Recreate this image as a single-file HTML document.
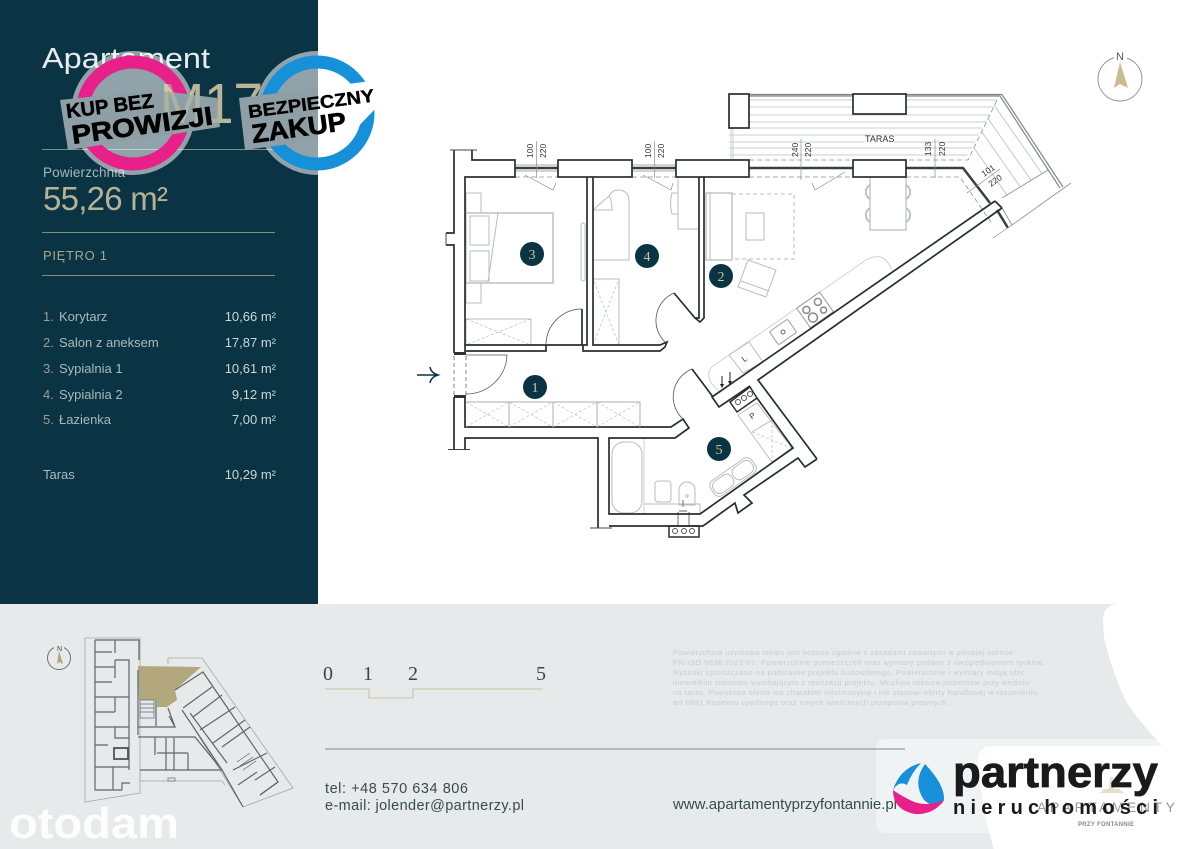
<!DOCTYPE html>
<html lang="pl"><head><meta charset="utf-8"><title>Apartament M17</title>
<style>html,body{margin:0;padding:0;background:#fff}svg{display:block}text{font-family:"Liberation Sans",sans-serif}</style></head>
<body>
<svg width="1200" height="849" viewBox="0 0 1200 849" xmlns="http://www.w3.org/2000/svg">
<defs>
<clipPath id="tc"><polygon points="998,98 968,159 993,198 1002,198 1048,170"/></clipPath>
<clipPath id="lp"><rect x="0" y="0" width="318" height="604"/></clipPath>
</defs>
<rect width="1200" height="849" fill="#fff"/>
<!-- bottom band -->
<path d="M0,604 H1117 Q1103,606 1103,620 Q1104,640 1105,642 Q1115,680 1127,703 Q1140,722 1155,738 L1162,746 H990 Q978,748 978,760 Q982,810 994,849 H0 Z" fill="#e6eaeb"/>
<rect x="876" y="739" width="290" height="94" rx="9" fill="#fff" opacity=".42"/>
<path d="M990,746 H1200 V849 H994 Q982,810 978,760 Q978,748 990,746Z" fill="#fff"/>
<!-- left panel -->
<rect width="318" height="604" fill="#0a3343"/>
<text x="42" y="68" font-size="29" fill="#e6ecec" textLength="168" lengthAdjust="spacingAndGlyphs">Apartament</text>
<text x="160" y="123" font-size="57" fill="#a9a68c" textLength="103" lengthAdjust="spacingAndGlyphs">M17</text>
<path d="M42,149.500H275M42,232.500H275M42,275.500H275" stroke="#7f9088" stroke-width="1"/>
<text x="43" y="177" font-size="13.500" fill="#a8b8bb" textLength="82">Powierzchnia</text>
<text x="43" y="210" font-size="33" fill="#b5b295" textLength="125">55,26 m²</text>
<text x="43" y="260" font-size="13" fill="#a8a68b" textLength="64">PIĘTRO 1</text>
<g font-size="13" fill="#a09e84">
<text x="43" y="321">1.</text><text x="43" y="347">2.</text><text x="43" y="373">3.</text><text x="43" y="399">4.</text><text x="43" y="424">5.</text>
</g>
<g font-size="13" fill="#a9babd">
<text x="59" y="321">Korytarz</text><text x="59" y="347">Salon z aneksem</text><text x="59" y="373">Sypialnia 1</text><text x="59" y="399">Sypialnia 2</text><text x="59" y="424">Łazienka</text><text x="43" y="479">Taras</text>
</g>
<g font-size="13" fill="#ccd7d8" text-anchor="end">
<text x="276" y="321">10,66 m²</text><text x="276" y="347">17,87 m²</text><text x="276" y="373">10,61 m²</text><text x="276" y="399">9,12 m²</text><text x="276" y="424">7,00 m²</text><text x="276" y="479">10,29 m²</text>
</g>
<!-- badges -->
<circle cx="133" cy="113" r="62" fill="#fff" opacity=".55"/>
<circle cx="133" cy="113" r="51" fill="none" stroke="#e8208a" stroke-width="13"/>
<polygon points="60,100 155,90 217,98 220,127 68,150" fill="#8f9fa6"/>
<text x="160" y="123" font-size="57" fill="#c9c3a0" opacity=".55" textLength="103" lengthAdjust="spacingAndGlyphs">M17</text>
<text transform="translate(67,118) rotate(-7)" font-size="20" font-weight="bold" fill="#000" stroke="#000" stroke-width=".5" textLength="88" lengthAdjust="spacingAndGlyphs">KUP BEZ</text>
<text transform="translate(73,144) rotate(-8)" font-size="26" font-weight="bold" fill="#000" stroke="#000" stroke-width=".7" textLength="142" lengthAdjust="spacingAndGlyphs">PROWIZJI</text>
<circle cx="317" cy="113" r="62" fill="#fff" opacity=".55" clip-path="url(#lp)"/>
<circle cx="317" cy="113" r="51" fill="none" stroke="#1690d8" stroke-width="13"/>
<polygon points="239,98 318,88 318,140 245,150" fill="#8f9fa6"/>
<polygon points="318,88 378,80 378,106 350,135 318,140" fill="#fff"/>
<text transform="translate(249,118) rotate(-7.500)" font-size="18" font-weight="bold" fill="#000" stroke="#000" stroke-width=".4" textLength="127" lengthAdjust="spacingAndGlyphs">BEZPIECZNY</text>
<text transform="translate(253,143) rotate(-8)" font-size="26" font-weight="bold" fill="#000" stroke="#000" stroke-width=".7" textLength="95" lengthAdjust="spacingAndGlyphs">ZAKUP</text>
<!-- terrace -->
<g stroke="#cdd0d1" stroke-width="1" fill="none">
<path d="M749,100H998M749,107H994M749,115H990M749,122H986M729,128H982M729,135H979M729,142H865M894,142H975M729,148H795M810,148H972M729,155H968"/>
<path d="M731,128V160M733,128V160" />
</g>
<g clip-path="url(#tc)" stroke="#bfc3c4" stroke-width=".9">
<path d="M968,90L1033,183M980,85L1045,178M992,82L1057,175M956,95L1021,188M944,105L1009,198M932,115L997,208M1004,78L1069,171M920,125L985,218"/>
</g>
<path d="M729,94.500H1002L1063,187M732,96H1000L1060,188" fill="none" stroke="#80868a" stroke-width="1.200"/>
<path d="M1012,225L1071,183M1002,198L1048,170M1048,170L1055,180M1012,225L1002,208" stroke="#8a8f92" stroke-width=".8" fill="none"/>
<path d="M749,160H968L998,98M906,177H960L993,225" fill="none" stroke="#8d9193" stroke-width=".8" stroke-dasharray="5 3"/>
<path d="M515,177H558M632,177H676M749,177H853" fill="none" stroke="#8d9193" stroke-width=".8" stroke-dasharray="5 3"/>
<g fill="#fff" stroke="#2a2e31" stroke-width="1.700">
<rect x="729" y="94" width="20" height="34"/><rect x="853" y="94" width="53" height="20"/>
</g>
<!-- windows -->
<g stroke="#3a3e41" stroke-width="2.500" fill="none">
<path d="M515,168H558M632,168H676M749,168H853M906,168H963L990,203M997,210L1008,228"/>
</g>
<g stroke="#8a8e90" stroke-width=".7" fill="none">
<path d="M515,165H558M632,165H676M515,171H558M632,171H676"/>
<path d="M536.500,141V178M654.500,141V178M801,139V180M935,139V178M967,193L1000,169M993,238L1012,225"/>
<path d="M525,175L553,190L556,183M643,175L671,190L673,183M845,172L815,190L812,183"/>
</g>
<g font-size="8.500" fill="#333">
<text transform="translate(533,158) rotate(-90)">100</text><text transform="translate(546,158) rotate(-90)">220</text>
<text transform="translate(651,158) rotate(-90)">100</text><text transform="translate(664,158) rotate(-90)">220</text>
<text transform="translate(798,157) rotate(-90)">240</text><text transform="translate(811,157) rotate(-90)">220</text>
<text transform="translate(931,156) rotate(-90)">133</text><text transform="translate(945,156) rotate(-90)">220</text>
<text x="865" y="142" font-size="9">TARAS</text>
<text transform="translate(984,177) rotate(-35)">101</text><text transform="translate(991,187) rotate(-35)">220</text>
</g>
<!-- furniture -->
<g fill="none" stroke="#b9bcbd" stroke-width="1">
<rect x="466" y="213" width="87" height="70" stroke-width="1.400"/>
<rect x="470" y="216" width="19" height="29"/><rect x="470" y="251" width="19" height="30"/>
<path d="M498,213L488,282"/>
<rect x="466" y="193" width="15" height="20"/><rect x="466" y="283" width="15" height="20"/>
<rect x="466" y="319" width="65" height="26"/>
<path d="M466,319L531,345M531,319L466,345" stroke-dasharray="3 2" stroke-width=".7"/>
<rect x="581" y="223" width="4" height="58" rx="2"/>
<path d="M593,260H629V202Q629,190 618,190Q612,190 609,196L593,210V260M593,210H612Q612,200 609,196"/>
<rect x="593" y="279" width="26" height="66"/>
<path d="M593,345L619,279M619,345L593,279" stroke-dasharray="3 2" stroke-width=".7"/>
<rect x="678" y="177" width="21" height="52"/>
<path d="M678,193H672Q669,203 672,214H678"/>
<rect x="706" y="193" width="26" height="67" stroke-width="1.300"/><path d="M710,193V260"/>
<rect x="732" y="194" width="62" height="65" stroke-dasharray="4 3"/>
<rect x="746" y="213" width="18" height="27"/>
<polygon points="748,260 776,270 766,297 738,287"/><path d="M741,281L769,291"/>
<rect x="870" y="177" width="36" height="53" stroke-width="1.200"/>
<path d="M870,185A8,8 0 0 0 870,199M870,208A8,8 0 0 0 870,222M906,185A8,8 0 0 1 906,199M906,208A8,8 0 0 1 906,222" stroke-width="1.800"/>
<path d="M892,270Q884,250 866,260L713,366Q705,373 712,384L720,393" stroke="#d0d2d3"/>
<g transform="translate(815,310) rotate(-35)"><rect x="-14" y="-12" width="28" height="24" stroke="#999"/><circle cx="-7" cy="-5" r="3.500" stroke="#888" stroke-width="1.500"/><circle cx="7" cy="-5" r="3.500" stroke="#888" stroke-width="1.500"/><circle cx="-6" cy="5" r="4.500" stroke="#888" stroke-width="1.500"/><circle cx="7" cy="5" r="3" stroke="#888" stroke-width="1.500"/></g>
<g transform="translate(783,332) rotate(-35)"><rect x="-11" y="-8" width="22" height="16" rx="1.500" stroke="#999"/><circle cx="0" cy="0" r="2" stroke="#666"/></g>
<polygon points="729,355 749,342 763,362 743,373"/>
<rect x="644" y="504" width="56" height="10"/>
<rect x="609" y="438" width="35" height="76" stroke="#d0d2d3"/>
<rect x="612" y="442" width="30" height="71" rx="12"/>
<rect x="655" y="481" width="16" height="21" rx="3"/>
<path d="M679,505V490A8,8 0 0 1 695,490V505Z"/><circle cx="687" cy="496" r="1.200"/>
<g transform="translate(733,477) rotate(-35)"><rect x="-25" y="-9" width="50" height="18" rx="6"/><rect x="-23" y="-7" width="22" height="14" rx="6"/><rect x="1" y="-7" width="22" height="14" rx="6"/></g>
<polygon points="738,415 757,403 792,448 772,462"/><path d="M752,432L772,420"/>
<path d="M752,432L792,448M772,420L772,462" stroke-dasharray="3 2" stroke-width=".7"/>
</g>
<g font-size="8" fill="#333" text-anchor="middle">
<text transform="translate(746,361) rotate(-35)">L</text><text transform="translate(754,418) rotate(-35)">P</text>
</g>
<path d="M722,376V386M730,372V383" stroke="#222" stroke-width="1"/>
<path d="M720,384L722,388L724,384ZM728,381L730,385L732,381Z" fill="#222"/>
<!-- shafts -->
<polygon points="730,402 750,387 757,398 737,412" fill="#fff" stroke="#2a2e31" stroke-width="1.500"/>
<g fill="none" stroke="#555" stroke-width="1"><circle cx="738" cy="402" r="2.500"/><circle cx="744" cy="398" r="2.500"/><circle cx="750" cy="394" r="2.500"/></g>
<rect x="669" y="526" width="30" height="11" fill="#fff" stroke="#2a2e31" stroke-width="1.500"/>
<g fill="none" stroke="#555" stroke-width="1"><circle cx="675" cy="531" r="2.500"/><circle cx="684" cy="531" r="2.500"/><circle cx="692" cy="531" r="2.500"/></g>
<path d="M679,511h8M683,500v7M678,512V526M689,512V526" stroke="#888" stroke-width="1.200"/>
<!-- walls -->
<g fill="#fff" stroke="#2a2e31" stroke-width="1.700">
<rect x="558" y="160" width="74" height="17"/><rect x="676" y="160" width="73" height="17"/><rect x="853" y="160" width="53" height="17"/>
</g>
<g fill="none" stroke="#2a2e31" stroke-width="1.700" stroke-linejoin="miter">
<path d="M465,353V177H515V160H472V150"/>
<path d="M454,150V233H446M446,245H454V353"/>
<path d="M587,177V345H465M593,177V345H660L667,342L665,347L660,351H583V345M466,351H546V345"/>
<path d="M582,309V345"/>
<path d="M699,177V318H695L674,293M704,177V318L700,322L695,318"/>
<path d="M995,201L712,397L719,407L750,386M1002,208L758,380L817,459M995,201L1002,208"/>
<path d="M757,398L793,448L700,514H609V438H675L689,428L683,419L671,427H465V398"/>
<path d="M817,459L805,467L798,458L744,495L752,503L738,513L735,503L703,526H609M598,528V438H465V449M454,397V449"/>
<path d="M692,369L713,397"/>
</g>
<path d="M450,150H477M448,449.500H470M590,528H612M446,233V245M454,354H466M454,397H466" stroke="#444" stroke-width="1" fill="none"/>
<rect x="454" y="352" width="12" height="3" fill="#333"/><rect x="454" y="395" width="12" height="3" fill="#333"/>
<path d="M454,356V395M466,356V395" stroke="#666" stroke-width=".8" stroke-dasharray="4 3" fill="none"/>
<g fill="none" stroke="#555" stroke-width=".8">
<path d="M466,355H507A41,40 0 0 1 466,394"/>
<path d="M582,309A36,36 0 0 0 546,345"/>
<path d="M674,293A30,30 0 0 0 665,342"/>
<path d="M692,369A30,30 0 0 0 683,419"/>
</g>
<path d="M466,402H640V427M509,402V427M553,402V427M597,402V427" fill="none" stroke="#aaaeaf" stroke-width="1"/>
<path d="M466,427L509,402M466,402L509,427M509,427L553,402M509,402L553,427M553,427L597,402M553,402L597,427M597,427L640,402M597,402L640,427" fill="none" stroke="#b4b8b9" stroke-width=".6" stroke-dasharray="3 2"/>
<path d="M417,375H438M430,367Q431,373 438,375Q431,377 430,383" fill="none" stroke="#0a3343" stroke-width="1.500"/>
<!-- room numbers -->
<g fill="#0a3343"><circle cx="532" cy="254" r="12"/><circle cx="647" cy="256" r="12"/><circle cx="721" cy="276" r="12"/><circle cx="535" cy="387" r="12"/><circle cx="719" cy="449" r="12"/></g>
<g font-size="14" fill="#c9c4a2" text-anchor="middle">
<text x="532" y="259" style="font-family:'Liberation Serif',serif">3</text><text x="647" y="261" style="font-family:'Liberation Serif',serif">4</text><text x="721" y="281" style="font-family:'Liberation Serif',serif">2</text><text x="535" y="392" style="font-family:'Liberation Serif',serif">1</text><text x="719" y="454" style="font-family:'Liberation Serif',serif">5</text>
</g>
<!-- north -->
<circle cx="1120" cy="79" r="22" fill="none" stroke="#8a9a94" stroke-width=".9"/>
<rect x="1114" y="50" width="13" height="11" fill="#fff"/>
<text x="1120" y="60" font-size="11" fill="#555" text-anchor="middle">N</text>
<polygon points="1120,62 1128,88 1120,84 1114,88" fill="#c9bd8f"/>
<!-- key plan -->
<polygon points="138,666 201,667 175,690 177,700 167,707 157,707 157,700 139,700" fill="#b3a77d"/>
<g fill="none" stroke="#a2a7a9" stroke-width=".8">
<polygon points="85,638 140,638 140,793 85,802"/>
<path d="M168,658H202L293,788L243,807L197,733M140,781H222L225,785M140,770V781M168,658V664"/>
</g>
<g fill="none" stroke="#5f666a" stroke-width="1.200">
<path d="M95,640H139V660M95,640V790H122M129,662V770M138,670V735"/>
<path d="M95,652H112M115,640V653M115,660H129V663M115,660V678M95,667H115M95,682H112M95,697H129M115,697V712M95,712H115M95,727H129M115,727V738H129M95,745H108M95,767H129M113,767V790M122,790V783H130"/>
<path d="M156,700V727H138M157,727H175L169,716M175,690L203,672L278,782L260,795M168,708L175,727"/>
<path d="M138,737H195L222,770H140M155,737V755M166,738V770M174,738V770M188,753V770M157,753H188"/>
<path d="M182,710L222,770L243,807M190,713L227,763M183,708L212,687M193,717L222,695M200,730L235,707M213,743L245,720M222,747L250,727M233,770L267,753M255,780L275,767M238,785L257,772M260,795L278,782"/>
</g>
<g fill="none" stroke="#5f666a" stroke-width=".7"><rect x="140" y="700" width="14" height="18"/><path d="M140,704H154M140,708H154M140,712H154M237,762l13,-9M240,766l13,-9M243,770l13,-9"/></g>
<rect x="114" y="748" width="14" height="11" fill="none" stroke="#4d5458" stroke-width="1.800"/>
<rect x="168" y="778" width="7" height="3" fill="none" stroke="#777" stroke-width=".8"/>
<circle cx="59" cy="658" r="11.500" fill="none" stroke="#667" stroke-width=".9"/>
<rect x="54" y="644" width="10" height="7" fill="#e6eaeb"/>
<text x="57" y="651" font-size="7" fill="#444">N</text>
<polygon points="59,651 63,664 59,662 57,664" fill="#b0a678"/>
<!-- scale -->
<g font-size="20" fill="#33464e" text-anchor="middle">
<text x="328" y="680" style="font-family:'Liberation Serif',serif">0</text><text x="368" y="680" style="font-family:'Liberation Serif',serif">1</text><text x="413" y="680" style="font-family:'Liberation Serif',serif">2</text><text x="541" y="680" style="font-family:'Liberation Serif',serif">5</text>
</g>
<path d="M325,689H369V698H413V689H543" fill="none" stroke="#cbc39f" stroke-width="1.100"/>
<path d="M325,749H905" stroke="#7e8b90" stroke-width="1"/>
<text x="325" y="793" font-size="14.500" fill="#3a4a52" textLength="143">tel: +48 570 634 806</text>
<text x="325" y="810" font-size="14.500" fill="#3a4a52" textLength="199">e-mail: jolender@partnerzy.pl</text>
<text x="673" y="809" font-size="15" fill="#3a4a52" textLength="224">www.apartamentyprzyfontannie.pl</text>
<g font-size="7.500" fill="#c6ccce">
<text x="673" y="655" textLength="342">Powierzchnia użytkowa lokalu jest liczona zgodnie z zasadami zawartymi w polskiej normie:</text>
<text x="673" y="665" textLength="371">PN-ISO 9836:2022-07. Powierzchnie pomieszczeń oraz wymiary podano z uwzględnieniem tynków.</text>
<text x="673" y="675" textLength="352">Rysunki uproszczono na podstawie projektu budowlanego. Powierzchnie i wymiary mogą ulec</text>
<text x="673" y="685" textLength="356">niewielkim zmianom wynikającym z realizacji projektu. Możliwa różnica poziomów przy wejściu</text>
<text x="673" y="695" textLength="364">na taras. Powyższa oferta ma charakter informacyjny i nie stanowi oferty handlowej w rozumieniu</text>
<text x="673" y="705" textLength="276">art 66§1 Kodeksu cywilnego oraz innych właściwych przepisów prawnych.</text>
</g>
<!-- partner -->
<path d="M1100,793h24l-5,-4h-5l-1,-12h-3l-1,12h-5z" fill="#e4e0cc"/>
<text x="1037" y="812" font-size="14" fill="#999" textLength="138">APARTAMENTY</text>
<text x="1078" y="826" font-size="6" font-weight="bold" fill="#888" textLength="56">PRZY FONTANNIE</text>
<path d="M925,764Q945,785 944,800Q938,812 924,800Q912,782 925,764Z" fill="#1690d8"/>
<path d="M921,763Q900,768 893,790Q899,780 907,785Q912,772 921,763Z" fill="#1690d8"/>
<path d="M893,790Q893,810 915,814Q934,815 944,800Q925,808 910,800Q900,795 893,790Z" fill="#e8208a"/>
<text x="953" y="787" font-size="44" font-weight="bold" fill="#1a1a1a" stroke="#1a1a1a" stroke-width=".8" textLength="205" lengthAdjust="spacingAndGlyphs">partnerzy</text>
<text x="953" y="814" font-size="20" font-weight="bold" fill="#1a1a1a" textLength="205">nieruchomości</text>
<!-- watermark -->
<text x="9" y="838" font-size="44" font-weight="bold" fill="#fff" opacity=".92" textLength="170" lengthAdjust="spacingAndGlyphs">otodam</text>
</svg>
</body></html>
